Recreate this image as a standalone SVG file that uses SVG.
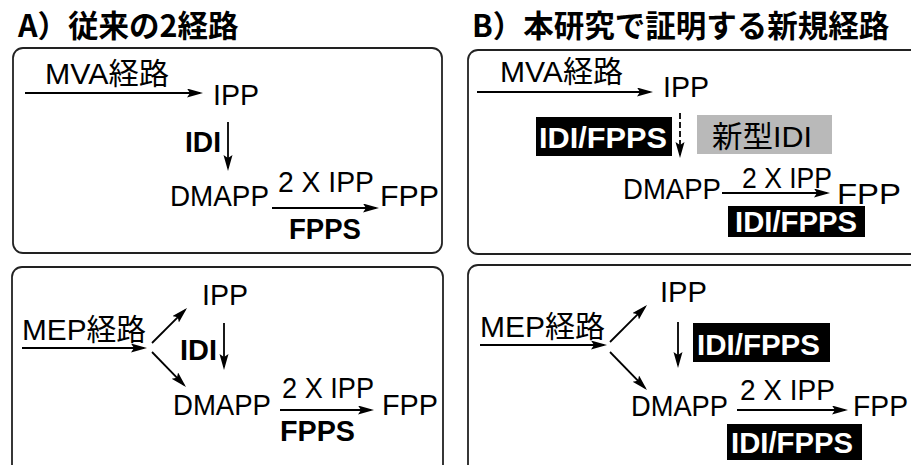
<svg xmlns="http://www.w3.org/2000/svg" width="911" height="465" viewBox="0 0 911 465">
<defs>
<style>
.bg{fill:#fff}
.box{fill:#fff;stroke:#222;stroke-width:1.8}
.t{font-family:"Liberation Sans","Noto Sans CJK JP",sans-serif;font-size:30px;fill:#000}
.b{font-weight:bold;font-size:29px}
.w{font-family:"Liberation Sans",sans-serif;font-size:30px;font-weight:bold;fill:#fff}
.title{font-family:"Noto Sans CJK JP",sans-serif;font-size:30.5px;font-weight:bold;fill:#000}
.ln{stroke:#000;stroke-width:1.8;fill:none;marker-end:url(#ah)}
.dash{stroke-dasharray:6,3}
.blk{fill:#000}
.gry{fill:#b9b9b9}
</style>
<marker id="ah" markerWidth="16" markerHeight="10" refX="13" refY="4.5" orient="auto" markerUnits="userSpaceOnUse">
<path d="M0,0 L16,4.5 L0,9 L3,4.5 z" fill="#000"/>
</marker>
</defs>
<rect class="bg" x="0" y="0" width="911" height="465"/>

<g id="titles">
<text class="title" x="18" y="37">A）従来の2経路</text>
<text class="title" x="472" y="37">B）本研究で証明する新規経路</text>
</g>

<g id="panelA1">
<rect class="box" x="13" y="48" width="429" height="205" rx="10"/>
<g id="a1-mva"><text class="t" x="45" y="84" textLength="124" lengthAdjust="spacingAndGlyphs">MVA経路</text></g>
<g id="a1-ipp"><text class="t" x="213" y="105" textLength="46" lengthAdjust="spacingAndGlyphs">IPP</text></g>
<g id="a1-idi"><text class="t b" x="185" y="152" textLength="36" lengthAdjust="spacingAndGlyphs">IDI</text></g>
<g id="a1-dmapp"><text class="t" x="170" y="206" textLength="99" lengthAdjust="spacingAndGlyphs">DMAPP</text></g>
<g id="a1-2ipp"><text class="t" x="278" y="192" textLength="96" lengthAdjust="spacingAndGlyphs">2 X IPP</text></g>
<g id="a1-fpp"><text class="t" x="380" y="206" textLength="59" lengthAdjust="spacingAndGlyphs">FPP</text></g>
<g id="a1-fpps"><text class="t b" x="289" y="239" textLength="72" lengthAdjust="spacingAndGlyphs">FPPS</text></g>
</g>

<g id="panelB1">
<rect class="box" x="468" y="50" width="460" height="204" rx="10"/>
<g id="b1-mva"><text class="t" x="500" y="82" textLength="123" lengthAdjust="spacingAndGlyphs">MVA経路</text></g>
<g id="b1-ipp"><text class="t" x="663" y="97" textLength="46" lengthAdjust="spacingAndGlyphs">IPP</text></g>
<g id="b1-idifpps1"><rect class="blk" x="536" y="117" width="136" height="39"/><text class="w" x="539" y="148" textLength="128" lengthAdjust="spacingAndGlyphs">IDI/FPPS</text></g>
<g id="b1-newidi"><rect class="gry" x="697" y="115" width="135" height="39"/><text class="t" x="712" y="147" textLength="100" lengthAdjust="spacingAndGlyphs">新型IDI</text></g>
<g id="b1-dmapp"><text class="t" x="623" y="199" textLength="98" lengthAdjust="spacingAndGlyphs">DMAPP</text></g>
<g id="b1-2ipp"><text class="t" x="742" y="188" textLength="90" lengthAdjust="spacingAndGlyphs">2 X IPP</text></g>
<g id="b1-fpp"><text class="t" x="837" y="204" textLength="64" lengthAdjust="spacingAndGlyphs">FPP</text></g>
<g id="b1-idifpps2"><rect class="blk" x="728" y="206" width="137" height="31"/><text class="w" x="735" y="232" textLength="122" lengthAdjust="spacingAndGlyphs">IDI/FPPS</text></g>
</g>

<g id="panelA2">
<rect class="box" x="12" y="267" width="431" height="220" rx="10"/>
<g id="a2-mep"><text class="t" x="22" y="340" textLength="124" lengthAdjust="spacingAndGlyphs">MEP経路</text></g>
<g id="a2-ipp"><text class="t" x="202" y="305" textLength="46" lengthAdjust="spacingAndGlyphs">IPP</text></g>
<g id="a2-idi"><text class="t b" x="180" y="360" textLength="37" lengthAdjust="spacingAndGlyphs">IDI</text></g>
<g id="a2-dmapp"><text class="t" x="173" y="415" textLength="98" lengthAdjust="spacingAndGlyphs">DMAPP</text></g>
<g id="a2-2ipp"><text class="t" x="282" y="398" textLength="92" lengthAdjust="spacingAndGlyphs">2 X IPP</text></g>
<g id="a2-fpp"><text class="t" x="382" y="415" textLength="56" lengthAdjust="spacingAndGlyphs">FPP</text></g>
<g id="a2-fpps"><text class="t b" x="280" y="441" textLength="75" lengthAdjust="spacingAndGlyphs">FPPS</text></g>
</g>

<g id="panelB2">
<rect class="box" x="468" y="265" width="460" height="220" rx="10"/>
<g id="b2-mep"><text class="t" x="480" y="337" textLength="125" lengthAdjust="spacingAndGlyphs">MEP経路</text></g>
<g id="b2-ipp"><text class="t" x="660" y="302" textLength="47" lengthAdjust="spacingAndGlyphs">IPP</text></g>
<g id="b2-idifpps1"><rect class="blk" x="693" y="323" width="137" height="39"/><text class="w" x="697" y="355" textLength="123" lengthAdjust="spacingAndGlyphs">IDI/FPPS</text></g>
<g id="b2-dmapp"><text class="t" x="631" y="416" textLength="97" lengthAdjust="spacingAndGlyphs">DMAPP</text></g>
<g id="b2-2ipp"><text class="t" x="740" y="400" textLength="95" lengthAdjust="spacingAndGlyphs">2 X IPP</text></g>
<g id="b2-fpp"><text class="t" x="853" y="416" textLength="55" lengthAdjust="spacingAndGlyphs">FPP</text></g>
<g id="b2-idifpps2"><rect class="blk" x="727" y="424" width="135" height="36"/><text class="w" x="731" y="453" textLength="122" lengthAdjust="spacingAndGlyphs">IDI/FPPS</text></g>
</g>

<g id="connectors">
<line class="ln" x1="25" y1="93" x2="200" y2="93"/>
<line class="ln" x1="228" y1="122" x2="228" y2="168"/>
<line class="ln" x1="272" y1="208" x2="376" y2="208"/>

<line class="ln" x1="477" y1="92" x2="650" y2="92"/>
<line class="ln dash" x1="680" y1="113" x2="680" y2="155"/>
<line class="ln" x1="722" y1="193" x2="827" y2="193"/>

<line class="ln" x1="22" y1="348" x2="144" y2="348"/>
<line class="ln" x1="152" y1="343" x2="184.9" y2="310.1"/>
<line class="ln" x1="152" y1="352" x2="183.9" y2="384.9"/>
<line class="ln" x1="224" y1="323" x2="224" y2="367"/>
<line class="ln" x1="280" y1="410" x2="371" y2="410"/>

<line class="ln" x1="480" y1="345" x2="604" y2="345"/>
<line class="ln" x1="610" y1="342" x2="644.9" y2="307.1"/>
<line class="ln" x1="610" y1="352" x2="644.9" y2="387.9"/>
<line class="ln" x1="678" y1="322" x2="678" y2="365"/>
<line class="ln" x1="737" y1="410" x2="845" y2="410"/>
</g>
</svg>
